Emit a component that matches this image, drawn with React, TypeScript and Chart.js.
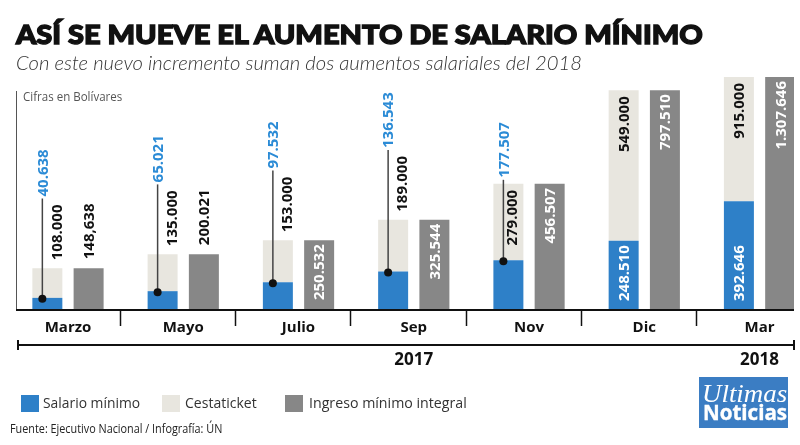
import React, { useEffect, useLayoutEffect, useRef, useState } from 'react';
import { Chart, registerables } from 'chart.js';

Chart.register(...registerables);

// ---------- data ----------
const categories = ['Marzo', 'Mayo', 'Julio', 'Sep', 'Nov', 'Dic', 'Mar'];
const salarioMinimo = [40638, 65021, 97532, 136543, 177507, 248510, 392646];
const cestaticket = [108000, 135000, 153000, 189000, 279000, 549000, 915000];
const ingresoIntegral = [148638, 200021, 250532, 325544, 456507, 797510, 1307646];
const ingresoLabels = ['148,638', '200.021', '250.532', '325.544', '456.507', '797.510', '1.307.646'];
const years = ['2017', '2018'];
const yearAnchors = ['Sep', 'Mar'];
const seriesNames = ['Salario mínimo', 'Cestaticket', 'Ingreso mínimo integral'];

const TITLE = 'ASÍ SE MUEVE EL AUMENTO DE SALARIO MÍNIMO';
const SUBTITLE = 'Con este nuevo incremento suman dos aumentos salariales del 2018';
const UNITS = 'Cifras en Bolívares';
const SOURCE = 'Fuente: Ejecutivo Nacional / Infografía: ÚN';

const COLORS = {
  blue: '#2e80c8',
  beige: '#e8e6df',
  gray: '#878787',
  blueText: '#2b8bd6',
  ink: '#111111',
};

const fmt = (n: number) => String(n).replace(/\B(?=(\d{3})+(?!\d))/g, '.');

const LABEL_FONT = 'bold 15px "Open Sans"';
const CAP = 10.7;

function vtext(ctx: CanvasRenderingContext2D, t: string, x: number, y: number, color: string, anchor: 'bottom' | 'top') {
  ctx.save();
  ctx.translate(x, y);
  ctx.rotate(-Math.PI / 2);
  ctx.fillStyle = color;
  ctx.textAlign = anchor === 'bottom' ? 'left' : 'right';
  ctx.textBaseline = 'alphabetic';
  ctx.fillText(t, 0, CAP / 2);
  ctx.restore();
}

const labelPlugin = {
  id: 'valueLabels',
  afterDatasetsDraw(chart: any) {
    const ctx: CanvasRenderingContext2D = chart.ctx;
    const ca = chart.chartArea;
    const xs = chart.scales.x;
    const m0 = chart.getDatasetMeta(0);
    const m1 = chart.getDatasetMeta(1);
    const m2 = chart.getDatasetMeta(2);

    // axes decorations
    ctx.save();
    ctx.strokeStyle = '#555';
    ctx.lineWidth = 1;
    ctx.beginPath();
    ctx.moveTo(ca.left + 0.5, ca.top + 14);
    ctx.lineTo(ca.left + 0.5, ca.bottom);
    ctx.stroke();

    ctx.strokeStyle = COLORS.ink;
    ctx.lineWidth = 2;
    ctx.beginPath();
    ctx.moveTo(ca.left, ca.bottom + 1);
    ctx.lineTo(ca.right, ca.bottom + 1);
    ctx.stroke();

    ctx.lineWidth = 1.5;
    for (let i = 0; i < categories.length - 1; i++) {
      const sx = Math.round(xs.getPixelForValue(i + 0.45)) + 0.5;
      ctx.beginPath();
      ctx.moveTo(sx, ca.bottom + 1);
      ctx.lineTo(sx, ca.bottom + 17);
      ctx.stroke();
    }

    ctx.fillStyle = COLORS.ink;
    ctx.font = 'bold 15px "Open Sans"';
    ctx.textAlign = 'center';
    ctx.textBaseline = 'alphabetic';
    categories.forEach((c, i) => {
      ctx.fillText(c, xs.getPixelForValue(i), ca.bottom + 17 + CAP / 2 + 1);
    });

    // year line
    const yy = ca.bottom + 36;
    ctx.lineWidth = 2;
    ctx.beginPath();
    ctx.moveTo(ca.left + 2, yy);
    ctx.lineTo(ca.right, yy);
    ctx.stroke();
    ctx.beginPath();
    ctx.moveTo(ca.left + 2, yy - 5);
    ctx.lineTo(ca.left + 2, yy + 5);
    ctx.moveTo(ca.right, yy - 5);
    ctx.lineTo(ca.right, yy + 5);
    ctx.stroke();

    ctx.font = 'bold 17px "Open Sans"';
    years.forEach((y, k) => {
      const idx = categories.indexOf(yearAnchors[k]);
      ctx.fillText(y, xs.getPixelForValue(idx), yy + 20);
    });
    ctx.restore();

    // value labels
    ctx.save();
    ctx.font = LABEL_FONT;
    categories.forEach((_, i) => {
      const b = m0.data[i];
      const c = m1.data[i];
      const g = m2.data[i];
      const base = b.base;
      const blueTop = Math.max(b.y, ca.top);
      const stackTop = Math.max(c.y, ca.top);
      const grayTop = Math.max(g.y, ca.top);
      const tBlue = fmt(salarioMinimo[i]);
      const tBeige = fmt(cestaticket[i]);
      const tGray = ingresoLabels[i];
      const wBlue = ctx.measureText(tBlue).width;
      const wBeige = ctx.measureText(tBeige).width;
      const wGray = ctx.measureText(tGray).width;

      if (base - grayTop >= wGray + 10) vtext(ctx, tGray, g.x, grayTop + 4, '#ffffff', 'top');
      else vtext(ctx, tGray, g.x, grayTop - 9, COLORS.ink, 'bottom');

      const blueInside = base - blueTop >= wBlue + 10;
      const beigeInside = blueTop - stackTop >= wBeige + 12;
      const lineX = b.x - 5;
      let beigeLabelTop: number | null = null;
      if (beigeInside) {
        vtext(ctx, tBeige, blueInside ? c.x : c.x + 3, stackTop + 6, COLORS.ink, 'top');
      } else {
        vtext(ctx, tBeige, c.x + 9, stackTop - 8, COLORS.ink, 'bottom');
        beigeLabelTop = stackTop - 8 - wBeige;
      }

      if (blueInside) {
        vtext(ctx, tBlue, b.x, base - 8, '#ffffff', 'bottom');
      } else {
        const lb = beigeLabelTop != null ? beigeLabelTop - 8 : stackTop - 6;
        ctx.strokeStyle = '#444';
        ctx.lineWidth = 1.5;
        ctx.beginPath();
        ctx.moveTo(lineX, blueTop + 1);
        ctx.lineTo(lineX, lb + 2);
        ctx.stroke();
        ctx.fillStyle = COLORS.ink;
        ctx.beginPath();
        ctx.arc(lineX, blueTop + 1, 4, 0, Math.PI * 2);
        ctx.fill();
        vtext(ctx, tBlue, lineX, lb, COLORS.blueText, 'bottom');
      }
    });
    ctx.restore();
  },
};

function FitText({ text, left, top, width, style }: any) {
  const ref = useRef<HTMLSpanElement>(null);
  const [scale, setScale] = useState(1);
  useLayoutEffect(() => {
    const el = ref.current;
    if (!el) return;
    const fit = () => {
      const w = el.offsetWidth;
      if (w > 0) setScale(width / w);
    };
    fit();
    const f: any = (document as any).fonts;
    if (f && f.ready) f.ready.then(fit);
  }, [text, width]);
  return (
    <span
      ref={ref}
      style={{
        position: 'absolute',
        left,
        top,
        whiteSpace: 'nowrap',
        lineHeight: 1,
        display: 'inline-block',
        transformOrigin: '0 0',
        transform: `scaleX(${scale})`,
        ...style,
      }}
    >
      {text}
    </span>
  );
}

export default function App() {
  const canvasRef = useRef<HTMLCanvasElement>(null);

  useEffect(() => {
    const canvas = canvasRef.current;
    if (!canvas) return;
    const toPts = (arr: number[]) => arr.map((y, i) => ({ x: i, y }));
    const chart = new Chart(canvas, {
      type: 'bar',
      data: {
        datasets: [
          { label: seriesNames[0], data: toPts(salarioMinimo), backgroundColor: COLORS.blue, stack: 'a' } as any,
          { label: seriesNames[1], data: toPts(cestaticket), backgroundColor: COLORS.beige, stack: 'a' } as any,
          { label: seriesNames[2], data: toPts(ingresoIntegral), backgroundColor: COLORS.gray, stack: 'b' } as any,
        ],
      },
      options: {
        animation: false,
        responsive: false,
        maintainAspectRatio: false,
        events: [],
        layout: { padding: { left: 16, right: 6, top: 77, bottom: 136 } },
        datasets: { bar: { categoryPercentage: 0.716, barPercentage: 0.727 } },
        plugins: { legend: { display: false }, tooltip: { enabled: false }, title: { display: false } },
        scales: {
          x: {
            type: 'linear',
            offset: false,
            min: -0.451,
            max: 6.299,
            display: false,
            grid: { display: false, offset: false },
            ticks: { stepSize: 1, includeBounds: false },
          },
          y: { stacked: true, min: 0, max: 846000, display: false, grid: { display: false } },
        },
      } as any,
      plugins: [labelPlugin],
    });
    return () => chart.destroy();
  }, []);

  const legendFont = { fontFamily: '"Open Sans", sans-serif', fontSize: 15, color: '#333' };
  const sq = (left: number, color: string) => (
    <div style={{ position: 'absolute', left, top: 395, width: 18, height: 17, background: color }} />
  );

  return (
    <div style={{ position: 'fixed', left: 0, top: 0, width: 800, height: 445, background: '#fff', overflow: 'hidden' }}>
      <canvas ref={canvasRef} width={800} height={445} style={{ position: 'absolute', left: 0, top: 0, width: 800, height: 445 }} />
      <FitText text={TITLE} left={16} top={20} width={687}
        style={{ fontFamily: 'Lato, "DejaVu Sans", sans-serif', fontWeight: 900, fontSize: 27, color: '#111', WebkitTextStroke: '1.4px #111' }} />
      <FitText text={SUBTITLE} left={16} top={53} width={566}
        style={{ fontFamily: 'Lato, "Open Sans", sans-serif', fontWeight: 300, fontStyle: 'italic', fontSize: 19, color: '#333' }} />
      <FitText text={UNITS} left={23} top={91} width={99}
        style={{ fontFamily: '"Open Sans", sans-serif', fontSize: 12, color: '#555' }} />

      {sq(21, COLORS.blue)}
      <FitText text={seriesNames[0]} left={43} top={395} width={97} style={legendFont} />
      {sq(162, COLORS.beige)}
      <FitText text={seriesNames[1]} left={185} top={395} width={72} style={legendFont} />
      {sq(285, COLORS.gray)}
      <FitText text={seriesNames[2]} left={309} top={395} width={158} style={legendFont} />

      <FitText text={SOURCE} left={10} top={423} width={212}
        style={{ fontFamily: '"Open Sans", sans-serif', fontSize: 12, color: '#222' }} />

      <div style={{ position: 'absolute', left: 699, top: 377, width: 89, height: 51, background: '#3b7dc3' }} />
      <FitText text="Ultimas" left={702} top={381} width={85}
        style={{ fontFamily: '"Liberation Serif", serif', fontStyle: 'italic', fontSize: 25, color: '#fff' }} />
      <FitText text="Noticias" left={703} top={400} width={84}
        style={{ fontFamily: '"Open Sans", sans-serif', fontWeight: 700, fontSize: 22, color: '#fff', WebkitTextStroke: '0.4px #fff' }} />
    </div>
  );
}
